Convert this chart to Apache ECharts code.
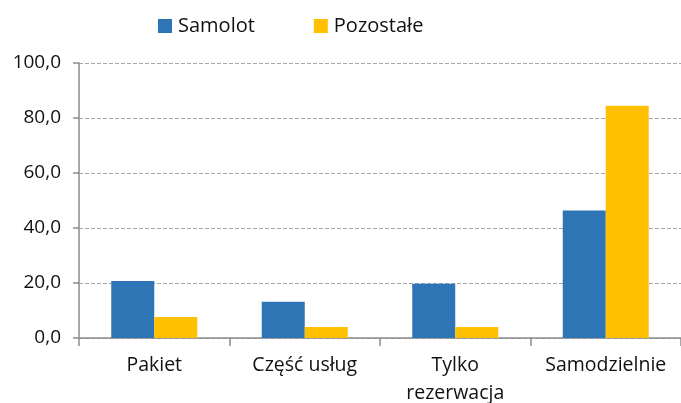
<!DOCTYPE html>
<html>
<head>
<meta charset="utf-8">
<script src="https://cdn.jsdelivr.net/npm/echarts@6/dist/echarts.min.js"></script>
<style>
  html, body { margin: 0; padding: 0; background: #fff; }
  #chart { width: 681px; height: 403px; }
</style>
</head>
<body>
<div id="chart"></div>
<script>
const categories = ['Pakiet', 'Część usług', 'Tylko\nrezerwacja', 'Samodzielnie']
const samolot = [20.7, 13.2, 19.7, 46.4]
const pozostale = [7.6, 4.0, 4.0, 84.5]

const font = '"Open Sans", "DejaVu Sans", sans-serif'
const chart = echarts.init(document.getElementById('chart'), null, { renderer: 'canvas' })

const option = {
  animation: false,
  backgroundColor: '#fff',
  textStyle: { fontFamily: font },
  legend: {
    top: 11,
    left: 153,
    itemWidth: 14,
    itemHeight: 14,
    itemGap: 59,
    icon: 'rect',
    textStyle: { fontSize: 20, color: '#111', fontFamily: font, padding: [0, 0, 0, 1] },
    data: ['Samolot', 'Pozostałe']
  },
  grid: { left: 79, right: 0, top: 63, bottom: 65, outerBoundsMode: 'none' },
  xAxis: {
    type: 'category',
    data: categories,
    axisLine: { lineStyle: { color: '#8c8c8c', width: 1.5 } },
    axisTick: { show: true, interval: 0, length: 8, lineStyle: { color: '#8c8c8c', width: 1.5 } },
    axisLabel: {
      interval: 0, hideOverlap: false,
      fontSize: 19.5, color: '#111', fontFamily: font, margin: 13, lineHeight: 28
    }
  },
  yAxis: {
    type: 'value',
    min: 0,
    max: 100,
    interval: 20,
    axisLine: { show: true, lineStyle: { color: '#8c8c8c', width: 1.5 } },
    axisTick: { show: true, length: 6, lineStyle: { color: '#8c8c8c', width: 1.5 } },
    axisLabel: {
      fontSize: 19, color: '#111', fontFamily: font, margin: 18,
      formatter: v => v.toFixed(1).replace('.', ',')
    },
    splitLine: { lineStyle: { color: '#a6a6a6', type: [4, 2], width: 1 } }
  },
  series: [
    {
      name: 'Samolot',
      type: 'bar',
      data: samolot,
      barWidth: 43,
      barGap: '0%',
      itemStyle: { color: '#2E75B6' }
    },
    {
      name: 'Pozostałe',
      type: 'bar',
      data: pozostale,
      barWidth: 43,
      itemStyle: { color: '#FFC000' }
    }
  ]
}

chart.setOption(option)
</script>
</body>
</html>
